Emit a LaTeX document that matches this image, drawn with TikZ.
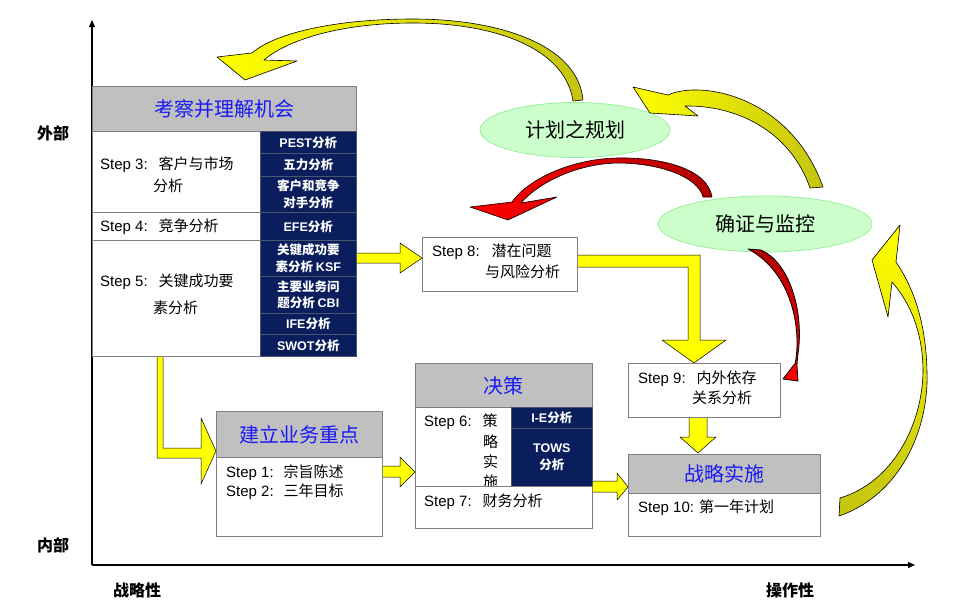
\documentclass[tikz,border=0pt]{standalone}
\usepackage{fontspec}
\setmainfont{Noto Sans CJK SC}
\newfontfamily\en{Liberation Sans}
\usetikzlibrary{shapes.geometric,arrows.meta}
\definecolor{hdrgray}{HTML}{C0C0C0}
\definecolor{bordergray}{HTML}{7F7F7F}
\definecolor{navy}{HTML}{0A1E5E}
\definecolor{hdrblue}{HTML}{1A1AF5}
\definecolor{ylw}{HTML}{FFFF00}
\definecolor{olv}{HTML}{C4C410}
\definecolor{lgreen}{HTML}{CCFFCC}
\definecolor{egreen}{HTML}{99F099}
\definecolor{rred}{HTML}{FF0000}
\definecolor{dred}{HTML}{B00000}
\newcommand\E[1]{{\en #1}}
\begin{document}
\begin{tikzpicture}[x=1pt,y=-1pt,
 box/.style={draw=bordergray,line width=0.8pt,fill=white,anchor=north west,inner sep=0pt},
 hdr/.style={box,fill=hdrgray,text=hdrblue,font=\fontsize{20}{24}\selectfont},
 dcell/.style={draw=gray!55!navy,line width=0.6pt,fill=navy,text=white,anchor=north west,inner sep=0pt,align=center,font=\fontsize{12.5}{16.5}\selectfont\bfseries},
 stxt/.style={anchor=west,inner sep=0pt,font=\fontsize{15}{18}\selectfont},
 axlab/.style={inner sep=0pt,font=\fontsize{16}{18}\selectfont\bfseries},
 ell/.style={ellipse,draw=egreen,line width=0.8pt,fill=lgreen,inner sep=0pt,font=\fontsize{20}{24}\selectfont},
 yarr/.style={draw=black,line width=0.5pt,fill=ylw,line join=miter},
 carrow/.style={draw=black,line width=0.6pt,line join=round},
 axis/.style={line width=1.3pt,-{Triangle[length=7pt,width=6pt]}},
 rowline/.style={draw=bordergray,line width=0.8pt}
]
\useasboundingbox (0,0) rectangle (968,611);

% axes
\coordinate (O) at (92,565);
\coordinate (Ytop) at (92,20);
\coordinate (Xend) at (915,565);
\draw[axis] (O) -- (Ytop);
\draw[axis] (O) -- (Xend);
\node[axlab] (lout) at (53,133) {外部};
\node[axlab] (lin) at (53,545) {内部};
\node[axlab] (lstr) at (137,590) {战略性};
\node[axlab] (lop) at (790,590) {操作性};

% straight block arrows
\draw[yarr] (356,253) -- (400,253) -- (400,243) -- (422,258) -- (400,273) -- (400,263) -- (356,263) -- cycle;
\draw[yarr] (577,255) -- (700,255) -- (700,340) -- (726,340) -- (694,363) -- (662,340) -- (688,340) -- (688,267) -- (577,267) -- cycle;
\draw[yarr] (689,417) -- (707,417) -- (707,437) -- (716,437) -- (698,453) -- (680,437) -- (689,437) -- cycle;
\draw[yarr] (157,356) -- (163,356) -- (163,448) -- (201,448) -- (201,418) -- (216,451) -- (201,484) -- (201,458) -- (157,458) -- cycle;
\draw[yarr] (382,466) -- (400,466) -- (400,457) -- (415,472) -- (400,487) -- (400,477) -- (382,477) -- cycle;
\draw[yarr] (592,481) -- (617,481) -- (617,473) -- (628,487) -- (617,500) -- (617,492) -- (592,492) -- cycle;

% box 1
\node[hdr,minimum width=264pt,minimum height=45pt] (h1) at (92,86) {考察并理解机会};
\node[box,minimum width=264pt,minimum height=225pt] (b1) at (92,131) {};
\draw[rowline] (92,212) -- (260,212);
\draw[rowline] (92,240) -- (260,240);
\node[dcell,minimum width=96pt,minimum height=22pt] (c1) at (260,131) {\E{PEST}分析};
\node[dcell,minimum width=96pt,minimum height=23pt] (c2) at (260,153) {五力分析};
\node[dcell,minimum width=96pt,minimum height=36pt] (c3) at (260,176) {客户和竞争\\对手分析};
\node[dcell,minimum width=96pt,minimum height=28pt] (c4) at (260,212) {\E{EFE}分析};
\node[dcell,minimum width=96pt,minimum height=36pt] (c5) at (260,240) {关键成功要\\素分析 \E{KSF}};
\node[dcell,minimum width=96pt,minimum height=37pt] (c6) at (260,276) {主要业务问\\题分析 \E{CBI}};
\node[dcell,minimum width=96pt,minimum height=21pt] (c7) at (260,313) {\E{IFE}分析};
\node[dcell,minimum width=96pt,minimum height=22pt] (c8) at (260,334) {\E{SWOT}分析};
\node[stxt] (s3a) at (100,165) {\E{Step 3:}\hspace{11pt}客户与市场};
\node[stxt] (s3b) at (153,186) {分析};
\node[stxt] (s4) at (100,227) {\E{Step 4:}\hspace{11pt}竞争分析};
\node[stxt] (s5a) at (100,282) {\E{Step 5:}\hspace{11pt}关键成功要};
\node[stxt] (s5b) at (153,308) {素分析};

% step 8
\node[box,minimum width=155pt,minimum height=54pt] (b8) at (422,237) {};
\node[stxt] (s8a) at (432,252) {\E{Step 8:}\hspace{12pt}潜在问题};
\node[stxt] (s8b) at (485,272) {与风险分析};

% 建立业务重点
\node[hdr,minimum width=166pt,minimum height=46pt] (h5) at (216,411) {建立业务重点};
\node[box,minimum width=166pt,minimum height=79pt] (b5) at (216,457) {};
\node[stxt] (s1) at (226,473) {\E{Step 1:}\hspace{10pt}宗旨陈述};
\node[stxt] (s2) at (226,492) {\E{Step 2:}\hspace{10pt}三年目标};

% 决策
\node[hdr,minimum width=177pt,minimum height=44pt] (h6) at (415,363) {决策};
\node[box,minimum width=177pt,minimum height=121pt] (b6) at (415,407) {};
\node[dcell,minimum width=81pt,minimum height=21pt] (c9) at (511,407) {\E{I-E}分析};
\node[dcell,minimum width=81pt,minimum height=58pt] (c10) at (511,428) {\E{TOWS}\\分析};
\node[stxt] (s6) at (424,422) {\E{Step 6:}\hspace{11pt}策};
\node[stxt] (s6b) at (483,442) {略};
\node[stxt] (s6c) at (483,462) {实};
\node[stxt] (s6d) at (483,482) {施};
\node[box,minimum width=177pt,minimum height=42pt] (b7) at (415,486) {};
\node[stxt] (s7) at (424,502) {\E{Step 7:}\hspace{11pt}财务分析};

% step 9
\node[box,minimum width=152pt,minimum height=54pt] (b9) at (628,363) {};
\node[stxt] (s9a) at (638,379) {\E{Step 9:}\hspace{11pt}内外依存};
\node[stxt] (s9b) at (692,398) {关系分析};

% 战略实施
\node[hdr,minimum width=192pt,minimum height=39pt] (h10) at (628,454) {战略实施};
\node[box,minimum width=192pt,minimum height=43pt] (b10) at (628,493) {};
\node[stxt] (s10) at (638,508) {\E{Step 10:}\hspace{5pt}第一年计划};

% ellipses
\node[ell,minimum width=190pt,minimum height=55pt] (e1) at (575,130) {计划之规划};
\node[ell,minimum width=214pt,minimum height=56pt] (e2) at (765,224) {确证与监控};

% curved arrows
\draw[carrow,left color=ylw,right color=olv]
 (583,100) .. controls (578,45) and (500,19) .. (413,19)
 .. controls (335,19) and (275,33) .. (252,53)
 -- (217,57) -- (245,80) -- (297,61) -- (264,60)
 .. controls (290,38) and (345,23) .. (413,23)
 .. controls (495,23) and (565,48) .. (573,101) -- cycle;
\draw[carrow,left color=ylw,right color=olv]
 (633,87) -- (668,95)
 .. controls (700,80) and (790,95) .. (823,187)
 -- (810,188)
 .. controls (790,130) and (735,105) .. (685,106)
 -- (698,116) -- (650,113) -- cycle;
\draw[carrow,left color=rred,right color=dred]
 (712,197) .. controls (708,170) and (665,157) .. (617,158)
 .. controls (570,159) and (527,180) .. (512,202)
 -- (470,207) -- (508,220) -- (557,197) -- (521,203)
 .. controls (537,184) and (575,164) .. (617,163)
 .. controls (660,163) and (698,177) .. (703,197) -- cycle;
\draw[carrow,line width=0.8pt,top color=dred,bottom color=rred]
 (761,250) .. controls (788,262) and (802,305) .. (799,345)
 .. controls (798,355) and (797,360) .. (797,366)
 -- (798,381) -- (783,379) -- (793,366) -- (795,364)
 .. controls (802,330) and (792,272) .. (748,249) -- cycle;
\draw[carrow,top color=ylw,bottom color=olv]
 (900,225) -- (872,260) -- (888,317) -- (892,282)
 .. controls (912,305) and (923,335) .. (923,372)
 .. controls (922,425) and (893,482) .. (840,498)
 -- (839,516)
 .. controls (900,495) and (929,430) .. (927,372)
 .. controls (926,325) and (915,290) .. (896,262) -- cycle;
\end{tikzpicture}
\end{document}
